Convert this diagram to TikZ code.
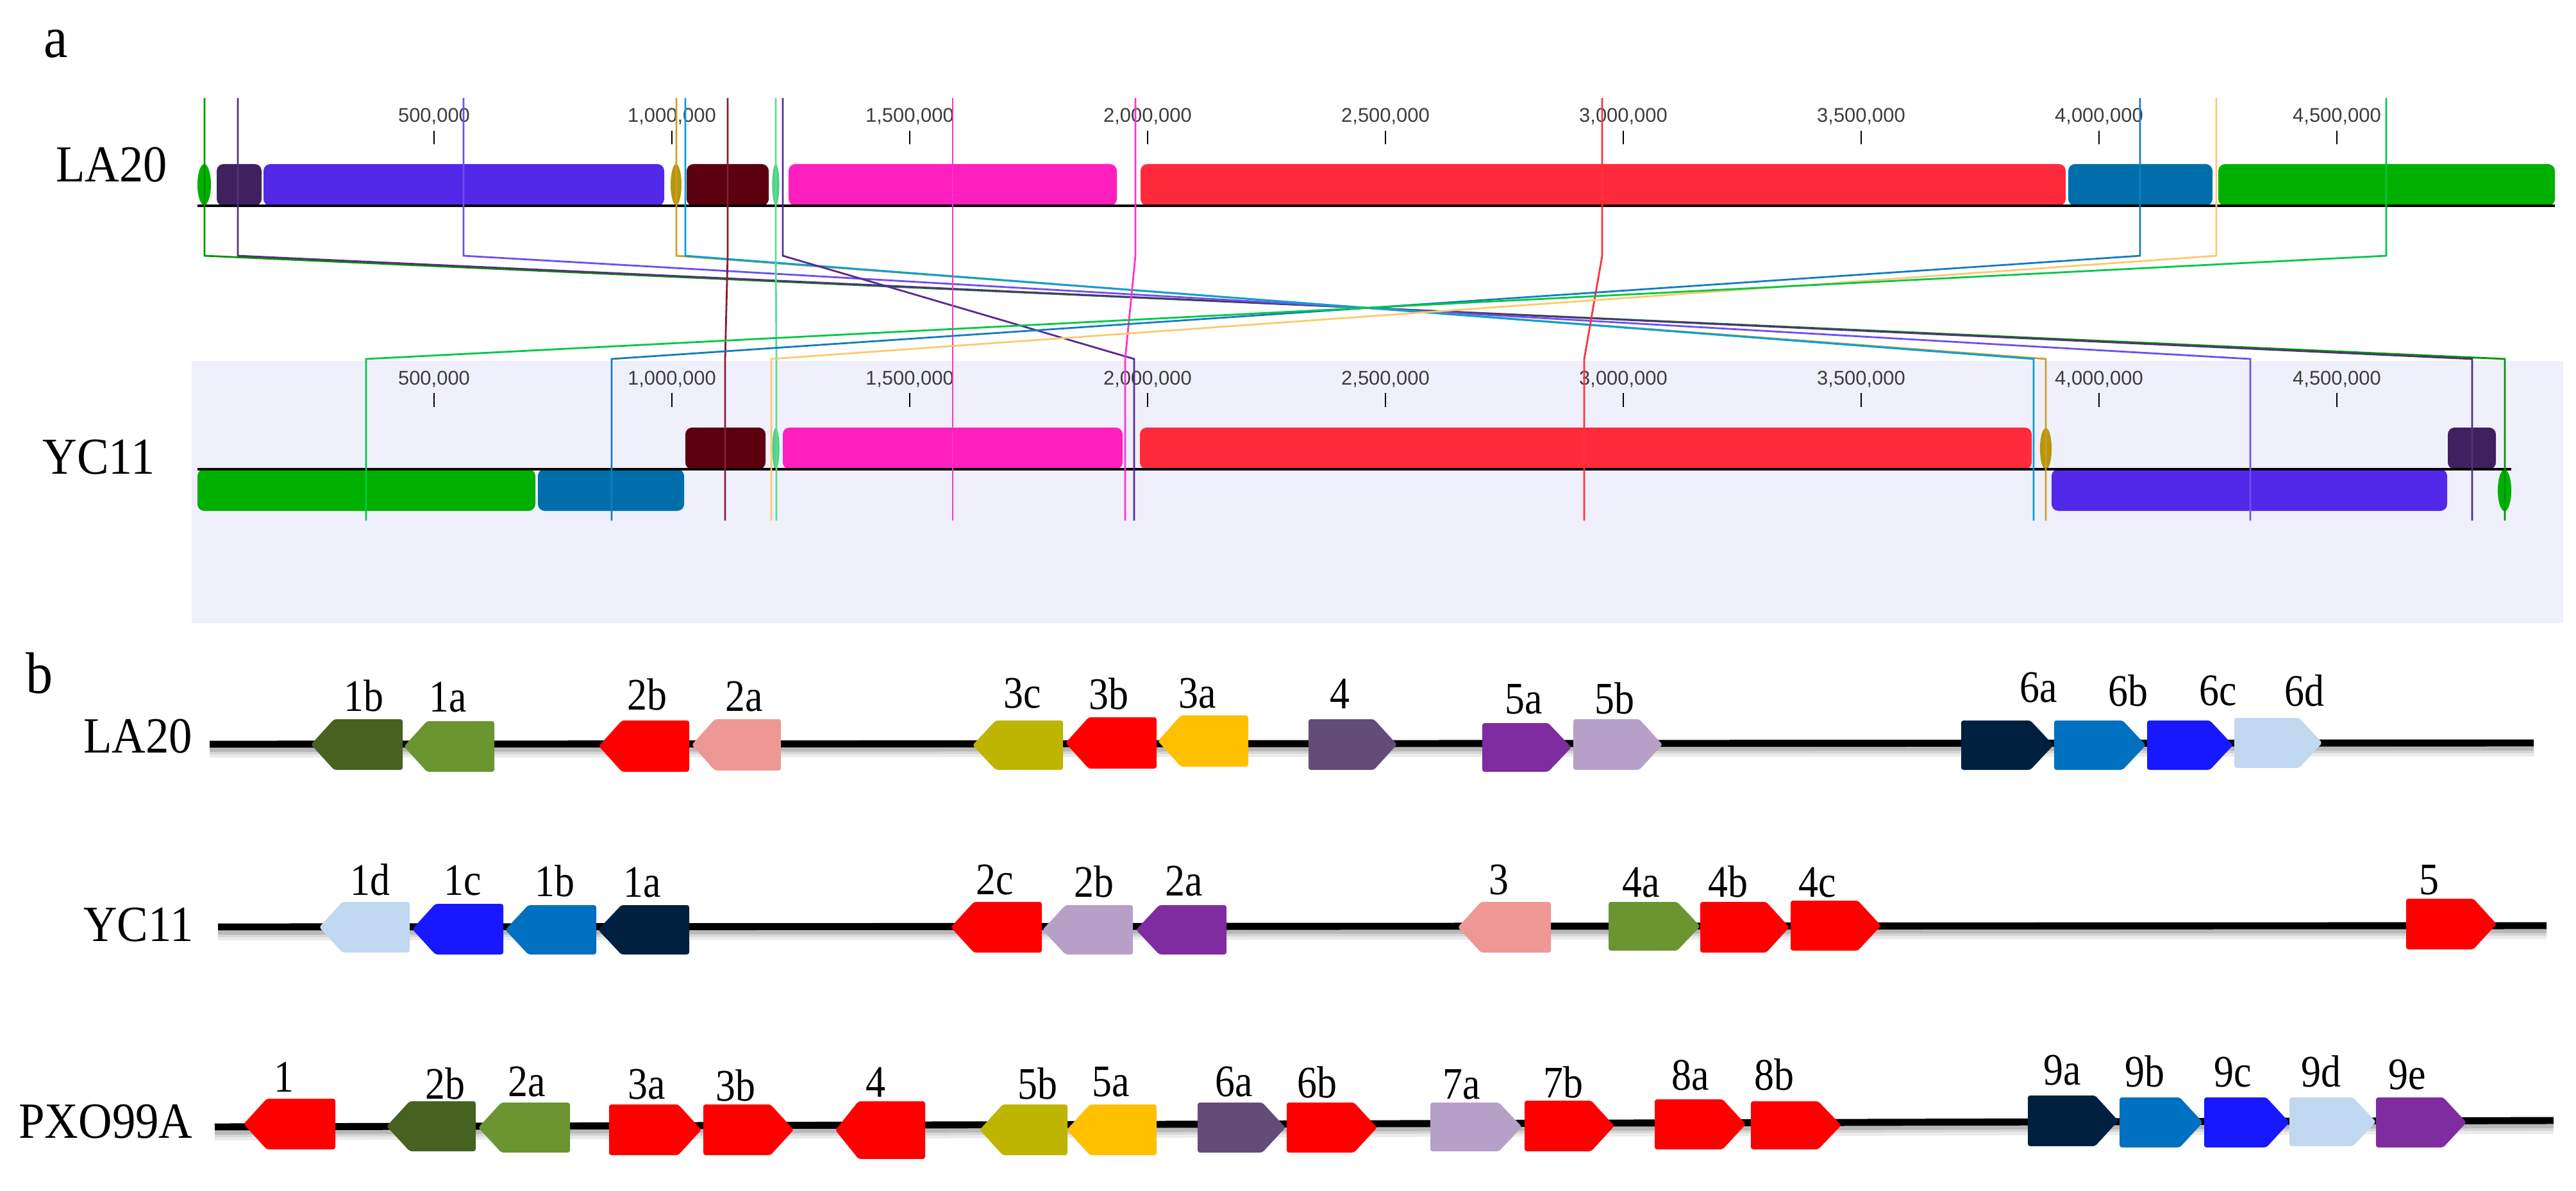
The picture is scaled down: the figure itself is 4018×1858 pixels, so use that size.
\documentclass[tikz,border=0pt]{standalone}
\usepackage{fontspec}
\setmainfont[FakeStretch=0.92]{Liberation Serif}
\newfontfamily\genef[FakeStretch=0.88]{Liberation Serif}
\newfontfamily\tickf{Liberation Sans}
% block colours (part a)
\definecolor{grnA}{RGB}{0,176,0}
\definecolor{dpurA}{RGB}{63,33,96}
\definecolor{bvA}{RGB}{82,41,232}
\definecolor{oliveA}{RGB}{184,150,12}
\definecolor{dredA}{RGB}{92,0,16}
\definecolor{mintA}{RGB}{80,208,140}
\definecolor{pinkA}{RGB}{255,31,190}
\definecolor{redA}{RGB}{255,42,60}
\definecolor{blueA}{RGB}{0,110,170}
\definecolor{panelA}{RGB}{240,240,252}
\definecolor{tickgray}{RGB}{60,60,60}
% connector colours
\definecolor{cA}{RGB}{0,150,0}
\definecolor{cB}{RGB}{80,50,120}
\definecolor{cC}{RGB}{110,80,240}
\definecolor{cD}{RGB}{200,160,40}
\definecolor{cE}{RGB}{0,160,220}
\definecolor{cF}{RGB}{128,32,48}
\definecolor{cG}{RGB}{90,220,150}
\definecolor{cH}{RGB}{90,40,150}
\definecolor{cI}{RGB}{255,50,210}
\definecolor{cJ}{RGB}{255,50,60}
\definecolor{cK}{RGB}{20,125,190}
\definecolor{cL}{RGB}{255,200,110}
\definecolor{cM}{RGB}{0,200,70}
% gene colours (part b)
\definecolor{gDkOl}{RGB}{71,97,32}
\definecolor{gOl}{RGB}{106,149,48}
\definecolor{gRed}{RGB}{255,0,0}
\definecolor{gSal}{RGB}{238,152,150}
\definecolor{gYel}{RGB}{189,181,0}
\definecolor{gAmb}{RGB}{255,192,0}
\definecolor{gDPur}{RGB}{100,76,120}
\definecolor{gPur}{RGB}{127,44,160}
\definecolor{gLav}{RGB}{182,160,200}
\definecolor{gNavy}{RGB}{0,32,64}
\definecolor{gBlu}{RGB}{0,112,192}
\definecolor{gBri}{RGB}{24,24,255}
\definecolor{gLBl}{RGB}{192,216,240}

\newcommand{\blk}[5]{\fill[#5, rounded corners=3pt] (#1,#3) rectangle (#2,#4);}
\newcommand{\gR}[5]{\fill[#5, rounded corners=1pt] (#1,#3) -- ({#2-36},#3) -- (#2,{(#3+#4)/2}) -- ({#2-36},#4) -- (#1,#4) -- cycle;}
\newcommand{\gL}[5]{\fill[#5, rounded corners=1pt] (#2,#3) -- ({#1+36},#3) -- (#1,{(#3+#4)/2}) -- ({#1+36},#4) -- (#2,#4) -- cycle;}
\newcommand{\glab}[4]{\node[genelab] (#1) at (#2,#3) {#4};}
\newcommand{\conn}[4]{%
  \coordinate (#1-top) at (#3,153);
  \coordinate (#1-bot) at (#4,812);
  \draw[#2, connline] (#1-top) -- (#3,399) -- (#4,560) -- (#1-bot);}
\newcommand{\chrline}[5]{%
  \coordinate (#5-s) at (#1,#2);
  \coordinate (#5-e) at (#3,#4);
  \draw[black!8, line width=2.2pt] (#1,{#2+17}) -- (#3,{#4+17});
  \draw[black!16, line width=2.2pt] (#1,{#2+12}) -- (#3,{#4+12});
  \draw[black!28, line width=2.2pt] (#1,{#2+8}) -- (#3,{#4+8});
  \draw[black, line width=3.1pt] (#5-s) -- (#5-e);}

\begin{document}
\begin{tikzpicture}[x=0.01cm,y=-0.01cm,
  connline/.style={line width=0.8pt},
  tickmark/.style={line width=0.6pt, black},
  ticklab/.style={font=\tickf\fontsize{8.8pt}{9pt}\selectfont, text=tickgray, inner sep=0pt},
  panellab/.style={font=\fontsize{26pt}{26pt}\selectfont, inner sep=0pt},
  chrlabA/.style={font=\fontsize{23pt}{23pt}\selectfont, inner sep=0pt},
  chrlabB/.style={font=\fontsize{22.5pt}{22.5pt}\selectfont, inner sep=0pt},
  genelab/.style={font=\genef\fontsize{20pt}{20pt}\selectfont, inner sep=0pt}]
\useasboundingbox (0,0) rectangle (4018,1858);
\fill[white] (0,0) rectangle (4018,1858);

% ---------------- part a ----------------
\node[panellab] (pa) at (87,69) {a};
\node[chrlabA] (laA) at (174,257) {LA20};
\node[chrlabA] (ycA) at (154,713) {YC11};

% YC11 panel
\fill[panelA] (299,563) rectangle (3998,972);

% ticks
\foreach \x/\t [count=\i] in {677/{500,000},1048/{1,000,000},1419/{1,500,000},1790/{2,000,000},2161/{2,500,000},2532/{3,000,000},2903/{3,500,000},3274/{4,000,000},3645/{4,500,000}}{
  \node[ticklab] (lt\i) at (\x,182) {\t};
  \draw[tickmark] (\x,204) -- (\x,225);
  \node[ticklab] (yt\i) at (\x,592) {\t};
  \draw[tickmark] (\x,613) -- (\x,635);
}

% LA20 blocks
\fill[grnA] (318.5,288) ellipse [x radius=3pt, y radius=9.1pt];
\blk{338}{408}{256}{321}{dpurA}
\blk{411}{1036}{256}{321}{bvA}
\fill[oliveA] (1054.5,288) ellipse [x radius=2.4pt, y radius=9.1pt];
\blk{1071}{1199}{256}{321}{dredA}
\fill[mintA] (1210,288) ellipse [x radius=1.6pt, y radius=9.1pt];
\blk{1230}{1742}{256}{321}{pinkA}
\blk{1779}{3222}{256}{321}{redA}
\blk{3226}{3451}{256}{321}{blueA}
\blk{3460}{3985}{256}{321}{grnA}
\draw[black, line width=1.3pt] (308,321) -- (3985,321);

% YC11 blocks
\blk{308}{835}{732}{797}{grnA}
\blk{839}{1067}{732}{797}{blueA}
\blk{1069}{1194}{667}{732}{dredA}
\fill[mintA] (1210,700) ellipse [x radius=1.6pt, y radius=9.2pt];
\blk{1221}{1751}{667}{732}{pinkA}
\blk{1778}{3169}{667}{732}{redA}
\fill[oliveA] (3191,700) ellipse [x radius=2.6pt, y radius=9.2pt];
\blk{3200}{3817}{732}{797}{bvA}
\blk{3818}{3893}{667}{732}{dpurA}
\fill[grnA] (3906.5,765) ellipse [x radius=3pt, y radius=9.2pt];
\draw[black, line width=1.3pt] (308,732) -- (3917,732);

% connectors
\conn{k1}{cA}{319}{3907}
\conn{k2}{cB}{371}{3856}
\conn{k3}{cC}{723}{3510}
\conn{k4}{cD}{1055}{3191}
\conn{k5}{cE}{1069}{3172}
\conn{k6}{cF}{1135}{1131}
\conn{k7}{cG}{1210}{1211}
\conn{k8}{cH}{1221}{1769}
\conn{k9}{cI}{1486}{1486}
\conn{k10}{cI}{1771}{1755}
\conn{k11}{cJ}{2499}{2471}
\conn{k12}{cK}{3338}{954}
\conn{k13}{cL}{3457}{1203}
\conn{k14}{cM}{3722}{571}

% ---------------- part b ----------------
\node[panellab] (pb) at (62,1050) {b};
\node[chrlabB] (laB) at (215,1149) {LA20};
\node[chrlabB] (ycB) at (216,1443) {YC11};
\node[chrlabB] (pxB) at (165,1750) {PXO99A};

% LA20 row
\chrline{327}{1161}{3952}{1159}{rowla}
\gL{485}{628}{1122}{1201}{gDkOl}
\gL{630}{771}{1125}{1204}{gOl}
\gL{934}{1075}{1124}{1204}{gRed}
\gL{1079}{1218}{1122}{1202}{gSal}
\gL{1517}{1658}{1124}{1201}{gYel}
\gL{1662}{1804}{1119}{1199}{gRed}
\gL{1806}{1947}{1116}{1196}{gAmb}
\gR{2041}{2179}{1122}{1201}{gDPur}
\gR{2312}{2451}{1128}{1204}{gPur}
\gR{2454}{2593}{1122}{1201}{gLav}
\gR{3059}{3203}{1124}{1201}{gNavy}
\gR{3204}{3347}{1124}{1201}{gBlu}
\gR{3349}{3483}{1124}{1201}{gBri}
\gR{3485}{3622}{1120}{1198}{gLBl}
\glab{la1b}{567}{1085}{1b}
\glab{la1a}{699}{1088}{1a}
\glab{la2b}{1009}{1083}{2b}
\glab{la2a}{1161}{1087}{2a}
\glab{la3c}{1595}{1082}{3c}
\glab{la3b}{1729}{1082}{3b}
\glab{la3a}{1868}{1082}{3a}
\glab{la4}{2090}{1082}{4}
\glab{la5a}{2377}{1091}{5a}
\glab{la5b}{2518}{1089}{5b}
\glab{la6a}{3180}{1073}{6a}
\glab{la6b}{3319}{1077}{6b}
\glab{la6c}{3460}{1078}{6c}
\glab{la6d}{3594}{1077}{6d}

% YC11 row
\chrline{340}{1446}{3972}{1444}{rowyc}
\gL{498}{639}{1407}{1486}{gLBl}
\gL{643}{785}{1410}{1489}{gBri}
\gL{788}{930}{1412}{1489}{gBlu}
\gL{933}{1075}{1412}{1489}{gNavy}
\gL{1483}{1625}{1407}{1486}{gRed}
\gL{1626}{1767}{1412}{1489}{gLav}
\gL{1772}{1913}{1412}{1489}{gPur}
\gL{2274}{2419}{1407}{1486}{gSal}
\gR{2509}{2652}{1407}{1483}{gOl}
\gR{2652}{2791}{1407}{1486}{gRed}
\gR{2793}{2934}{1405}{1483}{gRed}
\gR{3753}{3894}{1402}{1481}{gRed}
\glab{yc1d}{577}{1372}{1d}
\glab{yc1c}{722}{1374}{1c}
\glab{yc1b}{865}{1374}{1b}
\glab{yc1a}{1002}{1377}{1a}
\glab{yc2c}{1552}{1373}{2c}
\glab{yc2b}{1706}{1375}{2b}
\glab{yc2a}{1847}{1375}{2a}
\glab{yc3}{2338}{1373}{3}
\glab{yc4a}{2560}{1377}{4a}
\glab{yc4b}{2695}{1375}{4b}
\glab{yc4c}{2835}{1377}{4c}
\glab{yc5}{3789}{1373}{5}

% PXO99A row
\chrline{335}{1758}{3983}{1748}{rowpx}
\gL{380}{523}{1714}{1793}{gRed}
\gL{603}{742}{1718}{1796}{gDkOl}
\gL{746}{889}{1720}{1798}{gOl}
\gR{950}{1094}{1723}{1802}{gRed}
\gR{1097}{1238}{1723}{1802}{gRed}
\gL{1303}{1443}{1718}{1808}{gRed}
\gL{1528}{1665}{1723}{1802}{gYel}
\gL{1664}{1804}{1723}{1802}{gAmb}
\gR{1868}{2005}{1720}{1798}{gDPur}
\gR{2007}{2148}{1720}{1798}{gRed}
\gR{2231}{2374}{1720}{1796}{gLav}
\gR{2378}{2518}{1717}{1796}{gRed}
\gR{2581}{2723}{1715}{1793}{gRed}
\gR{2731}{2872}{1718}{1793}{gRed}
\gR{3163}{3304}{1709}{1788}{gNavy}
\gR{3306}{3436}{1712}{1790}{gBlu}
\gR{3438}{3571}{1712}{1790}{gBri}
\gR{3571}{3706}{1712}{1788}{gLBl}
\gR{3706}{3847}{1712}{1790}{gPur}
\glab{px1}{443}{1680}{1}
\glab{px2b}{694}{1690}{2b}
\glab{px2a}{822}{1688}{2a}
\glab{px3a}{1009}{1692}{3a}
\glab{px3b}{1147}{1693}{3b}
\glab{px4}{1366}{1688}{4}
\glab{px5b}{1618}{1690}{5b}
\glab{px5a}{1733}{1688}{5a}
\glab{px6a}{1925}{1688}{6a}
\glab{px6b}{2054}{1688}{6b}
\glab{px7a}{2280}{1692}{7a}
\glab{px7b}{2438}{1688}{7b}
\glab{px8a}{2637}{1677}{8a}
\glab{px8b}{2767}{1676}{8b}
\glab{px9a}{3217}{1670}{9a}
\glab{px9b}{3345}{1671}{9b}
\glab{px9c}{3483}{1673}{9c}
\glab{px9d}{3620}{1671}{9d}
\glab{px9e}{3755}{1677}{9e}
\end{tikzpicture}
\end{document}
